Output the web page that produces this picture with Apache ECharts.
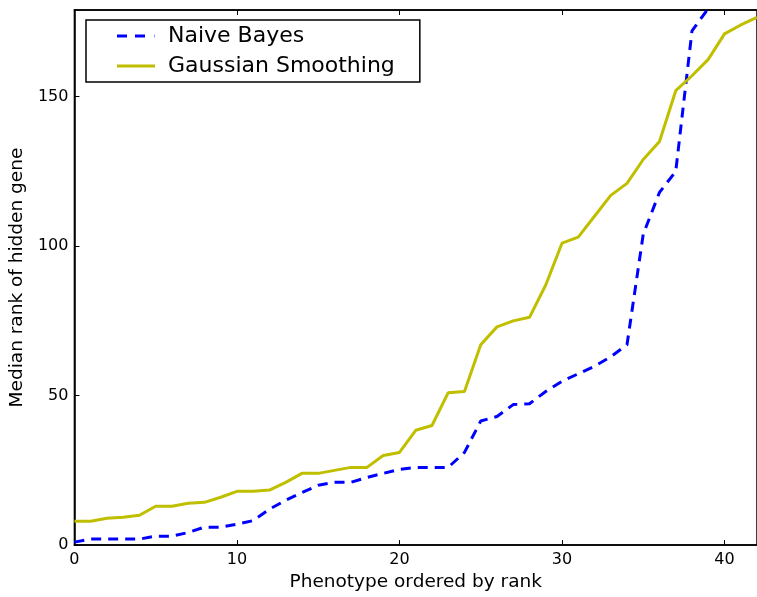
<!DOCTYPE html>
<html>
<head>
<meta charset="utf-8">
<script src="https://cdn.jsdelivr.net/npm/echarts@6/dist/echarts.min.js"></script>
<style>
  html, body { margin: 0; padding: 0; background: #fff; }
  #chart { width: 757px; height: 597px; }
</style>
</head>
<body>
<div id="chart"></div>
<script>
// data (x = phenotype index 0..42)
var naiveBayes = [1, 2, 2, 2, 2, 3, 3, 4.2, 6, 6, 7, 8.2, 12, 15, 17.6, 20, 21, 21, 22.6, 24,
    25.3, 26, 26, 26, 31, 41.5, 43, 47, 47.3, 51.4, 54.8, 57.3, 59.8, 63, 67, 104, 118, 125,
    172, 179.5, 184, 188, 192];
var gaussSmooth = [8, 8, 9, 9.3, 10, 13, 13, 14, 14.3, 16, 18, 18, 18.4, 21, 24, 24, 25, 26, 26, 30,
    31, 38.4, 40, 51, 51.4, 67, 73, 75, 76.2, 87, 101, 103, 110, 117, 121, 129, 135, 152,
    157, 162.5, 171, 174, 176.5];

function pairs(arr) {
    return arr.map(function (v, i) { return [i, v]; });
}

var font = 'DejaVu Sans';
var mychart = echarts.init(document.getElementById('chart'));

// legend icons: thin bars, dashed one has two dashes (plus the start of a third)
var dashIcon = 'path://M0,0h10v3h-10zM18,0h10v3h-10zM37.6,0h0.4v3h-0.4z';
var solidIcon = 'path://M0,0h38v3h-38z';

option = {
    animation: false,
    backgroundColor: '#fff',
    grid: {
        left: 73, right: -7, top: 10, bottom: 50,
        show: true,
        borderColor: '#000',
        borderWidth: 1.5
    },
    /*图例*/
    legend: {
        orient: 'vertical',
        left: 86,
        top: 20,
        padding: [4, 25, 4, 31],
        itemGap: 6,
        itemWidth: 38,
        itemHeight: 3,
        backgroundColor: '#fff',
        borderColor: '#000',
        borderWidth: 1.5,
        borderRadius: 0,
        textStyle: {
            fontFamily: font,
            fontSize: 22,
            color: '#000',
            lineHeight: 24,
            padding: [0, 0, 0, 8]
        },
        data: [
            { name: 'Naive Bayes', icon: dashIcon },
            { name: 'Gaussian Smoothing', icon: solidIcon }
        ]
    },
    xAxis: [{
        type: 'value',
        min: 0,
        max: 42,
        interval: 10,
        name: 'Phenotype ordered by rank',
        nameLocation: 'middle',
        nameGap: 27,
        nameTextStyle: { fontFamily: font, fontSize: 18.5, color: '#000' },
        axisLine: { lineStyle: { color: '#000', width: 1.5 } },
        axisTick: { inside: true, length: 5, lineStyle: { color: '#000' } },
        axisLabel: { fontFamily: font, fontSize: 16, color: '#000', margin: 7, showMaxLabel: false },
        splitLine: { show: false }
    }, {
        type: 'value',
        position: 'top',
        min: 0,
        max: 42,
        interval: 10,
        axisLine: { lineStyle: { color: '#000', width: 1.5 } },
        axisTick: { inside: true, length: 5, lineStyle: { color: '#000' } },
        axisLabel: { show: false },
        splitLine: { show: false }
    }],
    yAxis: {
        type: 'value',
        min: 0,
        max: 179,
        interval: 50,
        name: 'Median rank of hidden gene',
        nameLocation: 'middle',
        nameGap: 42,
        nameTextStyle: { fontFamily: font, fontSize: 18.5, color: '#000' },
        axisLine: { lineStyle: { color: '#000', width: 1.5 } },
        axisTick: { inside: true, length: 5, lineStyle: { color: '#000' } },
        axisLabel: { fontFamily: font, fontSize: 16, color: '#000', margin: 6, showMaxLabel: false },
        splitLine: { show: false }
    },
    series: [
        {
            name: 'Naive Bayes',
            type: 'line',
            symbol: 'none',
            clip: true,
            color: '#0000ff',
            lineStyle: { color: '#0000ff', width: 3, type: [10, 7] },
            data: pairs(naiveBayes)
        },
        {
            name: 'Gaussian Smoothing',
            type: 'line',
            symbol: 'none',
            clip: true,
            color: '#bfbf00',
            lineStyle: { color: '#bfbf00', width: 3 },
            data: pairs(gaussSmooth)
        }
    ]
};
mychart.setOption(option);
</script>
</body>
</html>
